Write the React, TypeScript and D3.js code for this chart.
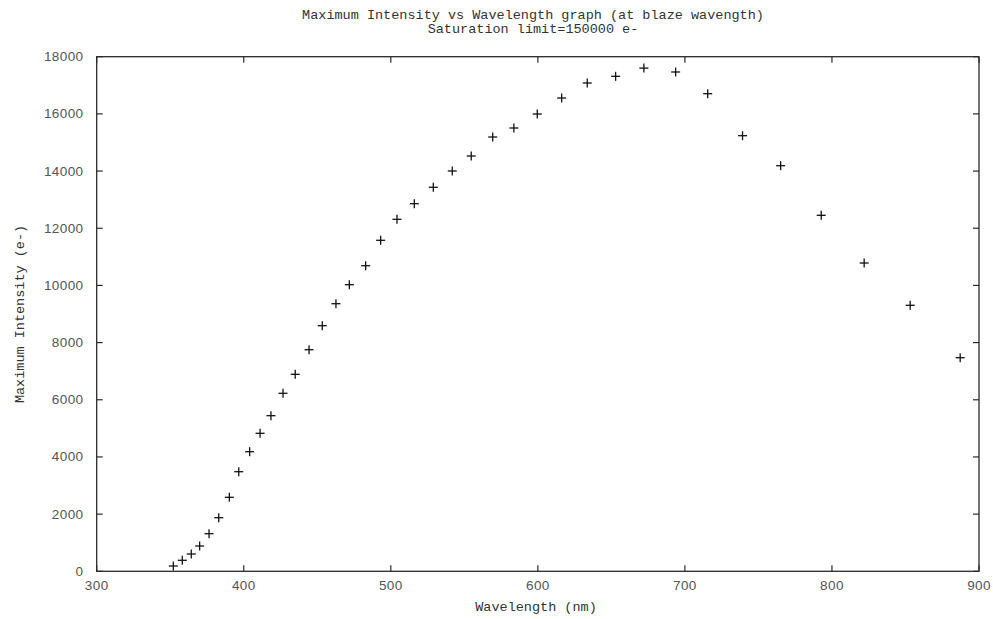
import React from "react";
import * as d3 from "d3";

const wavelengths = [
  352.1, 358.2, 364.3, 370.0, 376.4, 383.0, 390.2, 396.6, 404.0,
  411.1, 418.5, 426.7, 435.0, 444.4, 453.4, 462.7, 471.8,
  482.9, 493.1, 504.2, 516.0, 528.9, 541.8, 554.7, 569.3, 583.7, 599.6,
  616.2, 633.6, 652.9, 672.1, 693.7, 715.5,
  739.2, 765.1, 792.7, 821.9, 853.2, 887.2,
];
const intensities = [
  185, 385, 605, 885, 1315, 1875, 2588, 3484, 4183,
  4827, 5443, 6226, 6891, 7751, 8591, 9360, 10025,
  10689, 11578, 12312, 12858, 13432, 14002, 14527, 15191, 15506, 15996,
  16555, 17080, 17314, 17601, 17465, 16706,
  15237, 14187, 12452, 10784, 9304, 7471,
];
const xTicks = [300, 400, 500, 600, 700, 800, 900];
const yTicks = [0, 2000, 4000, 6000, 8000, 10000, 12000, 14000, 16000, 18000];
const titleLines = [
  "Maximum Intensity vs Wavelength graph (at blaze wavength)",
  "Saturation limit=150000 e-",
];
const xLabel = "Wavelength (nm)";
const yLabel = "Maximum Intensity (e-)";

const W = 993;
const H = 619;
const L = 96.7, R = 979, T = 56.7, B = 571.3;

export default function App() {
  const x = d3.scaleLinear().domain([300, 900]).range([L, R]);
  const y = d3.scaleLinear().domain([0, 18000]).range([B, T]);
  const monoFont = "'Liberation Mono', 'DejaVu Sans Mono', monospace";
  const sansFont = "'Liberation Sans', Arial, sans-serif";
  const textColor = "#333";
  const tickColor = "#555";
  const axisColor = "#2a2a2a";
  const tl = 6;
  const m = 4.5;
  const pts = wavelengths.map((w, i) => [x(w), y(intensities[i])]);
  return (
    <svg
      width={W}
      height={H}
      style={{ position: "absolute", left: 0, top: 0, background: "#fff" }}
      fontFamily={monoFont}
    >
      <rect x={0} y={0} width={W} height={H} fill="#fff" />
      {titleLines.map((t, i) => (
        <text key={t} x={533} y={19 + i * 14} textAnchor="middle" fontSize={13.5} fill={textColor}>
          {t}
        </text>
      ))}
      {xTicks.map((v) => (
        <g key={"x" + v}>
          <line x1={x(v)} x2={x(v)} y1={B} y2={B - tl} stroke={axisColor} strokeWidth={1.2} />
          <line x1={x(v)} x2={x(v)} y1={T} y2={T + tl} stroke={axisColor} strokeWidth={1.2} />
          <text x={x(v)} y={590} textAnchor="middle" fontSize={13.5} letterSpacing={0.4} fontFamily={sansFont} fill={tickColor}>
            {v}
          </text>
        </g>
      ))}
      {yTicks.map((v) => (
        <g key={"y" + v}>
          <line x1={L} x2={L + tl} y1={y(v)} y2={y(v)} stroke={axisColor} strokeWidth={1.2} />
          <line x1={R} x2={R - tl} y1={y(v)} y2={y(v)} stroke={axisColor} strokeWidth={1.2} />
          <text x={83.5} y={y(v) + 4.5} textAnchor="end" fontSize={13.5} letterSpacing={0.4} fontFamily={sansFont} fill={tickColor}>
            {v}
          </text>
        </g>
      ))}
      <rect x={L} y={T} width={R - L} height={B - T} fill="none" stroke={axisColor} strokeWidth={1.3} />
      <text x={536} y={611} textAnchor="middle" fontSize={13.5} fill={textColor}>
        {xLabel}
      </text>
      <text
        transform={`translate(24, ${(T + B) / 2}) rotate(-90)`}
        textAnchor="middle"
        fontSize={13.5}
        fill={textColor}
      >
        {yLabel}
      </text>
      {pts.map(([px, py], i) => (
        <g key={i} stroke="#111" strokeWidth={1.3}>
          <line x1={px - m} x2={px + m} y1={py} y2={py} />
          <line x1={px} x2={px} y1={py - m} y2={py + m} />
        </g>
      ))}
    </svg>
  );
}
